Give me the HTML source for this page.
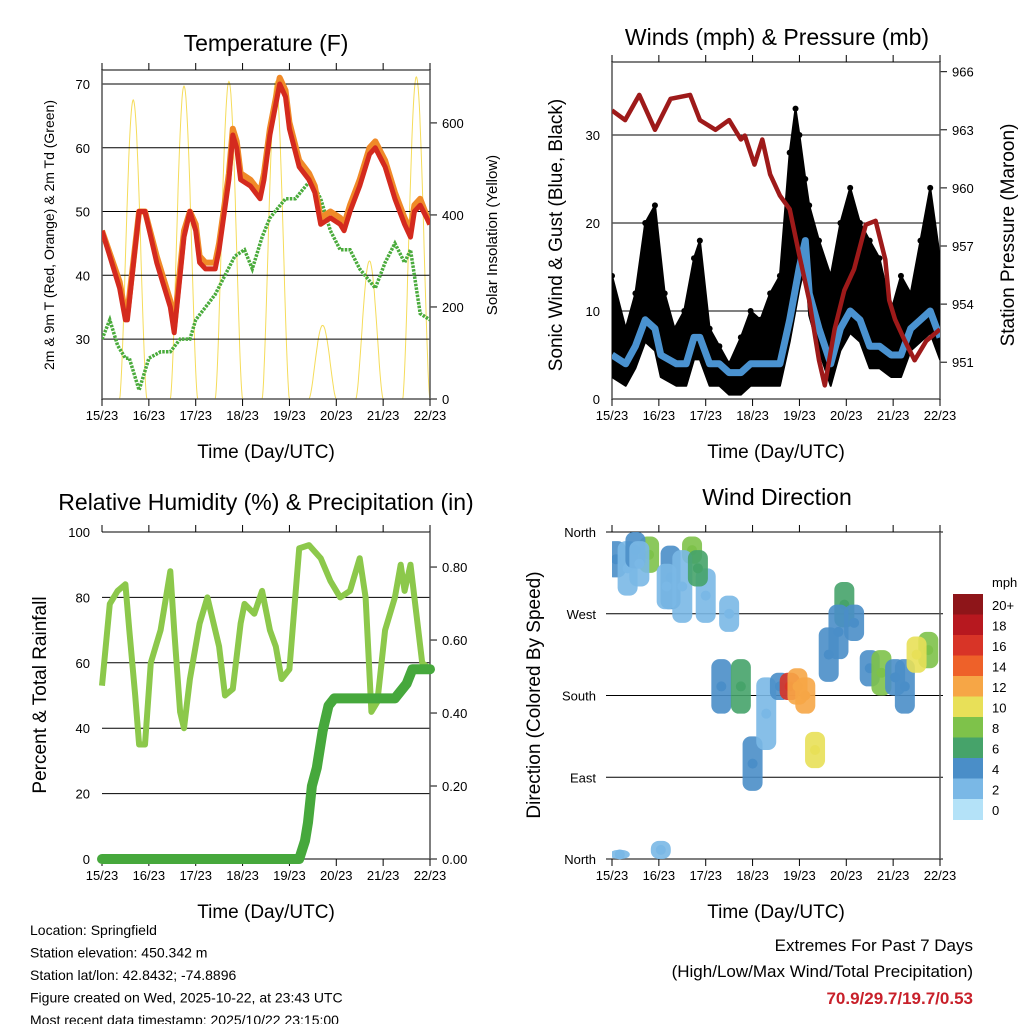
<!DOCTYPE html>
<html><head><meta charset="utf-8"><style>
body{margin:0;background:#fff;width:1024px;height:1024px;overflow:hidden}
svg{font-family:"Liberation Sans",sans-serif}
</style></head><body>
<svg id="s" width="1024" height="1024" xmlns="http://www.w3.org/2000/svg">
<defs>
<clipPath id="c1"><rect x="102" y="70" width="328" height="329"/></clipPath>
<clipPath id="c2"><rect x="612" y="62" width="328" height="337"/></clipPath>
<clipPath id="c3"><rect x="102" y="526" width="332" height="337"/></clipPath>
<clipPath id="c4"><rect x="612" y="528" width="328" height="334"/></clipPath>
</defs>
</svg>
<script>
// ---- data ----
const dayLabels=["15/23","16/23","17/23","18/23","19/23","20/23","21/23","22/23"];
const tempHours=[0,9,12,13,19,22,28,32,35,37,42,45,48,50,53,58,60,65,67,69,71,76,81,83,86,91,94,96,101,106,109,112,117,122,124,127,132,137,140,145,150,155,158,160,163,168];
const temp2m=[47,38,33,33,50,50,42,38,35,31,46,50,47,42,41,41,44,55,62,60,55,54,52,55,62,70,68,63,57,55,53,48,49,48,47,50,54,59,60,57,52,48,46,50,51,48];
const temp9m=[47,39,34,34,50,50,43,39,36,32,47,50,48,43,42,42,45,56,63,61,56,55,53,56,63,71,69,64,58,56,54,49,50,49,48,51,55,60,61,58,53,49,47,51,52,48];
const dewHours=[0,4,8,12,14,19,24,30,35,40,45,48,53,58,63,68,73,77,82,86,94,99,107,112,117,122,127,132,140,145,150,155,158,163,168];
const dewpt=[30,33,29,27,27,22,27,28,28,30,30,33,35,37,40,43,44,41,46,49,52,52,55,52,47,44,44,41,38,42,45,42,44,34,33];
const solarNoonHours=[16,42,65,89,113,137,161];
const solarPeak=[650,680,690,690,160,300,700];
const tempTicks=[30,40,50,60,70];
const solarTicks=[0,200,400,600];
const windHours=[0,7,12,17,22,25,33,38,42,45,50,55,60,66,71,76,81,86,91,96,99,101,106,112,117,122,127,132,137,143,148,153,158,163,168];
const windSpd=[5,4,6,9,8,5,4,4,7,7,4,4,3,3,4,4,4,4,9,15,18,12,8,4,8,10,9,6,6,5,5,8,9,10,7];
const gustHours=[0,7,12,17,22,27,32,37,42,45,50,55,60,66,71,76,81,86,91,94,96,99,101,106,112,117,122,127,132,137,143,148,153,158,163,168];
const gustSpd=[14,8,12,20,22,12,8,10,16,18,8,6,4,7,10,9,12,14,28,33,30,25,22,18,14,20,24,20,18,16,10,14,12,18,24,16];
const presHours=[0,6.7,14,22,30,40,45,53,60,66,68,73,77,81,86,91,96,101,106,109,114,119,124,130,135,140,142,145,150,155,161,168];
const pressure=[964.0,963.5,964.8,963.0,964.6,964.8,963.5,963.0,963.5,962.5,962.7,961.2,962.5,960.7,959.6,958.9,956.5,954.2,951.1,949.8,952.7,954.7,955.8,958.1,958.3,956.3,954.2,953.2,952.1,951.1,952.1,952.7];
const windTicks=[0,10,20,30];
const presTicks=[951,954,957,960,963,966];
const rhHours=[0,4,8,12,14,17,19,22,25,30,35,37,40,42,45,50,54,56,60,63,67,71,73,78,82,86,89,92,96,101,106,112,117,122,127,132,135,138,141,145,150,153,155,158,162,164,168];
const rh=[53,78,82,84,70,50,35,35,60,70,88,70,45,40,55,72,80,75,65,50,52,72,78,75,82,70,65,55,58,95,96,92,85,80,82,92,80,45,48,70,80,90,82,90,70,60,58];
const precipHours=[0,101,104,105.5,107.5,110,113,116,119,150,156,159,168];
const precip=[0,0,0.05,0.1,0.2,0.25,0.35,0.42,0.44,0.44,0.48,0.52,0.52];
const rhTicks=[0,20,40,60,80,100];
const precipTicks=[0,0.2,0.4,0.6,0.8];
const dirHours=[2,8,19,30,41,48,56,66,72,79,86,91,99,104,111,119,124,132,138,150,162,4,25,12,36,60,28,14,44,95,116,145,156];
const dirDeg=[330,320,335,310,340,290,190,190,105,160,190,190,180,120,225,280,260,210,205,190,230,5,10,340,300,270,300,325,320,190,250,200,225];
const dirSpread=[20,30,20,35,15,30,30,30,30,40,15,15,20,20,30,25,20,20,25,30,20,5,10,20,40,20,25,25,20,20,30,20,20];
const dirSpeed=[4,3,9,4,8,2,4,6,4,3,5,16,12,10,5,7,4,4,9,4,8,2,3,4,2,2,3,3,7,13,4,4,10];
const dirTicks=["North","East","South","West","North"];
const cbLabels=["20+","18","16","14","12","10","8","6","4","2","0"];
const cbColors=["#8e1519","#b7181f","#d83427","#ee6129","#f6a646","#e8e058","#7ec24a","#46a36a","#4a8ec8","#7ab8e6","#b4e2f8"];

// ---- helpers ----
const S=document.getElementById('s');const NS="http://www.w3.org/2000/svg";
function el(t,a,p){const e=document.createElementNS(NS,t);for(const k in a)e.setAttribute(k,a[k]);(p||S).appendChild(e);return e;}
function txt(x,y,s,sz,anchor,rot,extra){const a={x:x,y:y,'font-size':sz,'text-anchor':anchor||'middle',fill:'#000'};if(rot)a.transform=`rotate(-90 ${x} ${y})`;if(extra)for(const k in extra)a[k]=extra[k];const e=el('text',a);e.textContent=s;return e;}
function lin(d0,d1,r0,r1){return v=>r0+(v-d0)/(d1-d0)*(r1-r0);}
function path(xs,ys,fx,fy){return xs.map((v,i)=>(i?'L':'M')+fx(v).toFixed(1)+','+fy(ys[i]).toFixed(1)).join('');}
function speedColor(s){let i=Math.min(10,Math.floor(s/2));return cbColors[10-i];}

function frame(name,L,T,R,B,fx,box){
  const g=el('g',{});
  
  
  if(box)el('rect',{x:L,y:T,width:R-L,height:B-T,fill:'none',stroke:'#555','stroke-width':1.5},g);
  else{el('line',{x1:L,y1:B,x2:R,y2:B,stroke:'#555','stroke-width':1.5},g);el('line',{x1:R,y1:T,x2:R,y2:B,stroke:'#555','stroke-width':1.5},g);}
  dayLabels.forEach((d,i)=>{const x=fx(i*24);
    el('line',{x1:x,y1:B,x2:x,y2:B+7,stroke:'#000'},g);
    el('line',{x1:x,y1:T,x2:x,y2:T-7,stroke:'#000'},g);
    const t=txt(x,B+21,d,13);
    
    });
  const xt=txt((L+R)/2,B+59,"Time (Day/UTC)",19);
  
  
}
function hgrid(ticks,fy,L,R,lx,fmt){ticks.forEach(v=>{const y=fy(v);
  el('line',{x1:L,y1:y,x2:R,y2:y,stroke:'#000','stroke-width':1});
  const t=txt(lx,y+5,fmt?fmt(v):v,13,'end');
  
  });}
function rticks(ticks,fy,R,fmt){ticks.forEach(v=>{const y=fy(v);
  el('line',{x1:R,y1:y,x2:R+7,y2:y,stroke:'#000'});
  const t=txt(R+12,y+5,fmt?fmt(v):v,13,'start');
  
  });}

// ---- Panel 1: Temperature ----
(function(){const L=102,R=430,T=70,B=399;
const fx=lin(0,168,L,R),fy=lin(20.6,72.2,B,T),fs=lin(0,715,B,T);
const cg=el('g',{'clip-path':'url(#c1)'});
solarNoonHours.forEach((h,i)=>{let d='';for(let k=-7;k<=7;k+=0.25){const v=k*k<49?solarPeak[i]*Math.pow(Math.cos(k/7*Math.PI/2),1.6):0;d+=(d?'L':'M')+fx(h+k).toFixed(1)+','+fs(v).toFixed(1);}
  const p=el('path',{d:d,fill:'none',stroke:'#f5dc5a','stroke-width':1},cg);
  
  });
hgrid(tempTicks,fy,L,R,L-12);rticks(solarTicks,fs,R);
frame('temperature',L,T,R,B,fx,true);
const cg2=el('g',{'clip-path':'url(#c1)'});
const dp=el('path',{d:path(dewHours,dewpt,fx,fy),fill:'none',stroke:'#4aab3c','stroke-width':3.5,'stroke-dasharray':'2.5 1.2'},cg2);


const o=el('path',{d:path(tempHours,temp9m,fx,fy),fill:'none',stroke:'#f08a28','stroke-width':6,'stroke-linejoin':'round'},cg2);


const r=el('path',{d:path(tempHours,temp2m,fx,fy),fill:'none',stroke:'#d42a1e','stroke-width':5,'stroke-linejoin':'round'},cg2);


const t=txt(266,51,"Temperature (F)",23);
const a=txt(54,235,"2m & 9m T (Red, Orange) & 2m Td (Green)",14,'middle',true);
const b=txt(497,235,"Solar Insolation (Yellow)",15,'middle',true);
})();

// ---- Panel 2: Winds ----
(function(){const L=612,R=940,T=62,B=399;
const fx=lin(0,168,L,R),fy=lin(0,38.3,B,T),fp=lin(949.1,966.5,B,T);
hgrid(windTicks,fy,L,R,L-12);rticks(presTicks,fp,R);
frame('winds',L,T,R,B,fx,true);
const cg=el('g',{'clip-path':'url(#c2)'});
let up=gustHours.map((h,i)=>fx(h).toFixed(1)+','+fy(gustSpd[i]).toFixed(1));
let lo=windHours.map((h,i)=>fx(h).toFixed(1)+','+fy(Math.max(0.5,windSpd[i]-2.5)).toFixed(1)).reverse();
const g=el('polygon',{points:up.concat(lo).join(' '),fill:'#000',stroke:'#000','stroke-width':2,'stroke-linejoin':'round'},cg);


gustHours.forEach((h,i)=>{const c=el('circle',{cx:fx(h),cy:fy(gustSpd[i]),r:3,fill:'#000'},cg);
  
  });
const w=el('path',{d:path(windHours,windSpd,fx,fy),fill:'none',stroke:'#4a92d0','stroke-width':7,'stroke-linejoin':'round'},cg);


const p=el('path',{d:path(presHours,pressure,fx,fp),fill:'none',stroke:'#9e1a1a','stroke-width':4.5,'stroke-linejoin':'round'},cg);


const t=txt(777,45,"Winds (mph) & Pressure (mb)",23);
const a=txt(562,235,"Sonic Wind & Gust (Blue, Black)",19,'middle',true);
const b=txt(1014,235,"Station Pressure (Maroon)",19,'middle',true);
})();

// ---- Panel 3: RH & Precip ----
(function(){const L=102,R=430,T=532,B=859;
const fx=lin(0,168,L,R),fy=lin(0,100,B,T),fp=lin(0,0.896,B,T);
hgrid(rhTicks,fy,L,R,L-12);rticks(precipTicks,fp,R,v=>v.toFixed(2));
frame('humidity',L,T,R,B,fx,false);
const h=el('path',{d:path(rhHours,rh,fx,fy),fill:'none',stroke:'#8cc84b','stroke-width':6,'stroke-linejoin':'round'});


const p=el('path',{d:path(precipHours,precip,fx,fp),fill:'none',stroke:'#46a83c','stroke-width':10,'stroke-linecap':'round','stroke-linejoin':'round'});


const t=txt(266,510,"Relative Humidity (%) & Precipitation (in)",23);
const a=txt(46,695,"Percent & Total Rainfall",19,'middle',true);
})();

// ---- Panel 4: Wind direction ----
(function(){const L=612,R=940,T=532,B=859;
const fx=lin(0,168,L,R),fy=lin(0,360,B,T);
dirTicks.forEach((s,i)=>{const y=fy(i*90);el('line',{x1:L-6,y1:y,x2:R+3,y2:y,stroke:'#000'});
  const t=txt(L-16,y+5,s,13,'end');
  
  });
frame('wind-direction',L,T,R,B,fx,false);
const cg=el('g',{'clip-path':'url(#c4)'});
dirHours.forEach((h,i)=>{const c=speedColor(dirSpeed[i]);const x=fx(h);
  const y1=fy(Math.min(360,dirDeg[i]+dirSpread[i])),y2=fy(Math.max(0,dirDeg[i]-dirSpread[i]));
  const r=el('rect',{x:x-10,y:y1,width:20,height:y2-y1,rx:8,fill:c,opacity:0.9},cg);
  
  
  const d=el('circle',{cx:x,cy:fy(dirDeg[i]),r:5,fill:c},cg);
  
  });
const cb=el('g',{});


const bh=20.5;
cbColors.forEach((c,i)=>{el('rect',{x:953,y:594+i*bh,width:30,height:bh+0.5,fill:c},cb);
  const t=txt(992,610+i*bh,cbLabels[i],13,'start');
  
  });
const u=txt(992,587,"mph",13,'start');
const t=txt(777,505,"Wind Direction",23);
const a=txt(540,695,"Direction (Colored By Speed)",19,'middle',true);
})();

// ---- footer ----
const info=["Location: Springfield","Station elevation: 450.342 m","Station lat/lon: 42.8432; -74.8896","Figure created on Wed, 2025-10-22, at 23:43 UTC","Most recent data timestamp: 2025/10/22 23:15:00"];
info.forEach((s,i)=>{const t=txt(30,935+i*22.5,s,14,'start');
  
  });
const e1=txt(973,951,"Extremes For Past 7 Days",17,'end');
const e2=txt(973,977,"(High/Low/Max Wind/Total Precipitation)",17,'end');
const e3=txt(973,1004,"70.9/29.7/19.7/0.53",17,'end',false,{fill:'#c8202a','font-weight':'bold'});
</script>
</body></html>
